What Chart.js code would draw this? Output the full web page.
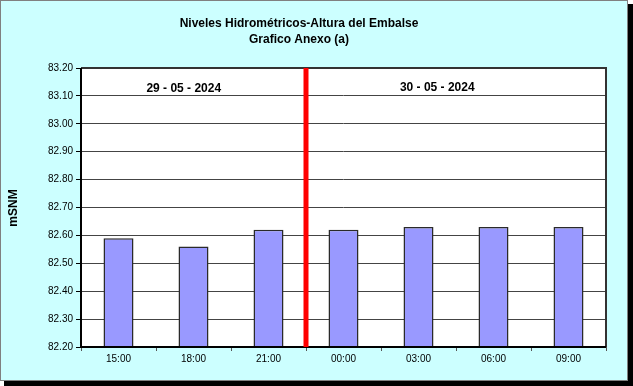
<!DOCTYPE html>
<html>
<head>
<meta charset="utf-8">
<script src="https://cdn.jsdelivr.net/npm/chart.js@4/dist/chart.umd.min.js"></script>
<style>
  html, body { margin: 0; padding: 0; background: #ffffff; }
  #wrap { width: 633px; height: 386px; }
</style>
</head>
<body>
<div id="wrap"><canvas id="chart" width="633" height="386"></canvas></div>
<script>
const horas = ["15:00", "18:00", "21:00", "00:00", "03:00", "06:00", "09:00"];
const niveles = [82.59, 82.56, 82.62, 82.62, 82.63, 82.63, 82.63];
const fechas = ["29 - 05 - 2024", "30 - 05 - 2024"];
const titulo = ["Niveles Hidrométricos-Altura del Embalse", "Grafico Anexo (a)"];
const yMin = 82.2, yMax = 83.2, yStep = 0.1;

// fondo, marco, titulo, textos de fecha y linea roja del cambio de dia
const decor = {
    id: 'decor',
    beforeDraw(chart) {
        const c = chart.ctx;
        c.save();
        c.fillStyle = '#ccffff';
        c.fillRect(0, 0, 628, 381);
        c.fillStyle = '#000';
        c.fillRect(628, 4, 5, 382);
        c.fillRect(4, 381, 629, 5);
        c.strokeStyle = '#808080';
        c.lineWidth = 1;
        c.strokeRect(0.5, 0.5, 627, 380);
        const a = chart.chartArea;
        c.fillStyle = '#fff';
        c.fillRect(a.left, a.top, a.right - a.left, a.bottom - a.top);
        c.fillStyle = '#000';
        c.textAlign = 'center';
        c.textBaseline = 'middle';
        c.font = 'bold 12px Arial, "Liberation Sans"';
        c.fillText(titulo[0], 299, 24);
        c.fillText(titulo[1], 299, 40);
        c.translate(14, 208);
        c.rotate(-Math.PI / 2);
        c.fillText('mSNM', 0, 0);
        c.restore();
    },
    afterDatasetsDraw(chart) {
        const c = chart.ctx, a = chart.chartArea, x = chart.scales.x;
        c.save();
        c.strokeStyle = '#333';
        c.lineWidth = 2;
        c.beginPath();
        c.moveTo(a.left, a.top); c.lineTo(a.right, a.top); c.lineTo(a.right, a.bottom);
        c.stroke();
        c.strokeStyle = '#000';
        c.beginPath();
        c.moveTo(a.left, a.top); c.lineTo(a.left, a.bottom); c.lineTo(a.right, a.bottom);
        c.stroke();
        const xr = x.getPixelForValue(2.5);
        c.strokeStyle = '#ff0000';
        c.lineWidth = 5;
        c.beginPath();
        c.moveTo(xr, a.top); c.lineTo(xr, a.bottom);
        c.stroke();
        c.fillStyle = '#000';
        c.font = 'bold 12px Arial, "Liberation Sans"';
        c.textAlign = 'center';
        c.textBaseline = 'middle';
        c.fillText(fechas[0], x.getPixelForValue(0.87), 89);
        c.fillText(fechas[1], x.getPixelForValue(4.25), 88);
        c.restore();
    }
};

new Chart(document.getElementById('chart'), {
    type: 'bar',
    data: {
        labels: horas,
        datasets: [{
            data: niveles,
            backgroundColor: '#9999ff',
            borderColor: '#2a2a2a',
            borderWidth: 1.5,
            barPercentage: 0.4,
            categoryPercentage: 1
        }]
    },
    options: {
        responsive: false,
        animation: false,
        layout: { padding: { left: 0, top: 68, right: 27, bottom: 0 } },
        plugins: { legend: { display: false }, title: { display: false }, tooltip: { enabled: false } },
        scales: {
            x: {
                afterFit: s => { s.height = 39; },
                grid: { drawOnChartArea: false, drawTicks: true, tickLength: 4, color: '#555' },
                border: { display: false },
                ticks: { color: '#000', padding: 2, font: { family: 'Arial', size: 10 } }
            },
            y: {
                min: yMin, max: yMax,
                afterFit: s => { s.width = 81; },
                grid: { color: '#444', lineWidth: 1, tickLength: 5, tickColor: '#000' },
                border: { display: false },
                ticks: {
                    stepSize: yStep, color: '#000', padding: 3,
                    font: { family: 'Arial', size: 10 },
                    callback: v => v.toFixed(2)
                }
            }
        }
    },
    plugins: [decor]
});
</script>
</body>
</html>
